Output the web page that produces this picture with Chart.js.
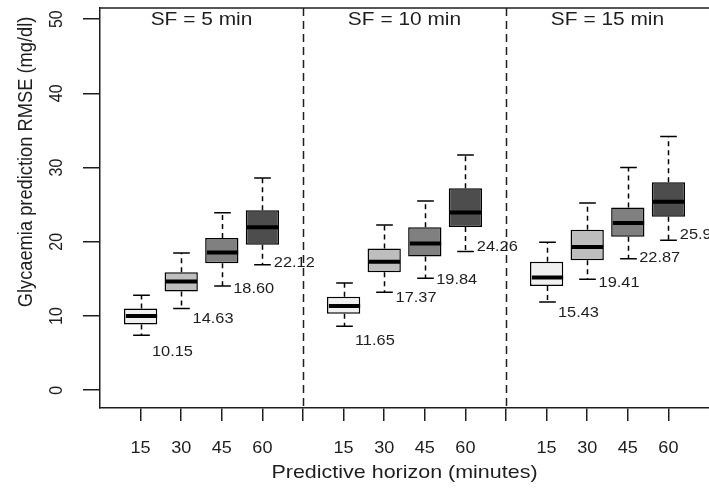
<!DOCTYPE html>
<html>
<head>
<meta charset="utf-8">
<script src="https://cdn.jsdelivr.net/npm/chart.js@4.4.1/dist/chart.umd.min.js"></script>
<style>
  html, body { margin: 0; padding: 0; background: #fff; }
</style>
</head>
<body>
<canvas id="chart" width="709" height="488"></canvas>
<script>
var panels = ['SF = 5 min', 'SF = 10 min', 'SF = 15 min'];
var horizons = ['15', '30', '45', '60'];
var yTicks = [0, 10, 20, 30, 40, 50];

// one entry per box: SF 5 (15,30,45,60), SF 10 (...), SF 15 (...)
var whiskerLow  = [7.4, 11.0, 14.05, 16.9,   8.6, 13.2, 15.1, 18.7,   11.9, 14.95, 17.7, 20.2];
var boxLow      = [8.85, 13.3, 17.1, 19.6,   10.3, 15.9, 18.0, 22.0,  14.05, 17.5, 20.66, 23.36];
var medians     = [10.0, 14.65, 18.55, 21.95, 11.35, 17.3, 19.77, 23.95, 15.2, 19.28, 22.52, 25.4];
var boxHigh     = [11.0, 15.9, 20.5, 24.25,  12.6, 19.1, 21.95, 27.2,  17.3, 21.63, 24.62, 28.03];
var whiskerHigh = [12.8, 18.5, 23.9, 28.6,   14.45, 22.25, 25.5, 31.7, 19.95, 25.22, 30.02, 34.2];
var means       = ['10.15', '14.63', '18.60', '22.12', '11.65', '17.37', '19.84', '24.26', '15.43', '19.41', '22.87', '25.93'];

var boxColors = ['#f0f0f0', '#bebebe', '#808080', '#4d4d4d'];
var ink = '#1e1e1e';
var font = "'Liberation Sans', Arial, sans-serif";
var stretch = 1.13; // the source picture is a little wider than tall

function boxPos(i) {
  return Math.floor(i / 4) * 5 + (i % 4) + 1;
}

// text drawn with the same horizontal stretch as the source
function putText(ctx, text, x, y, size, align, rotate) {
  ctx.save();
  ctx.translate(x, y);
  ctx.scale(stretch, 1);
  if (rotate) ctx.rotate(-Math.PI / 2);
  ctx.font = size + 'px ' + font;
  ctx.textAlign = align;
  ctx.textBaseline = 'middle';
  ctx.fillStyle = ink;
  ctx.fillText(text, 0, 0);
  ctx.restore();
}

var boxData = [];
var boxFill = [];
for (var i = 0; i < medians.length; i++) {
  boxData.push({ x: boxPos(i), y: [boxLow[i], boxHigh[i]] });
  boxFill.push(boxColors[i % 4]);
}

var extras = {
  id: 'extras',
  beforeDatasetsDraw: function (chart) {
    var ctx = chart.ctx, xs = chart.scales.x, area = chart.chartArea;
    ctx.save();
    ctx.strokeStyle = ink;
    ctx.lineWidth = 1.5;
    // top border
    ctx.beginPath();
    ctx.moveTo(area.left, area.top);
    ctx.lineTo(area.right, area.top);
    ctx.stroke();
    // panel dividers
    ctx.setLineDash([8, 5]);
    [5, 10].forEach(function (v) {
      var px = Math.round(xs.getPixelForValue(v)) + 0.5;
      ctx.beginPath();
      ctx.moveTo(px, area.top);
      ctx.lineTo(px, area.bottom);
      ctx.stroke();
    });
    ctx.restore();
  },
  afterDatasetsDraw: function (chart) {
    var ctx = chart.ctx, xs = chart.scales.x, ys = chart.scales.y, area = chart.chartArea;
    var meta = chart.getDatasetMeta(0);
    ctx.save();
    ctx.strokeStyle = '#000';
    for (var i = 0; i < medians.length; i++) {
      var bar = meta.data[i];
      var cx = Math.round(bar.x) + 0.5;
      var half = bar.width / 2;
      var cap = half / 2;
      // whiskers
      ctx.lineWidth = 1.5;
      ctx.setLineDash([5, 4]);
      ctx.beginPath();
      ctx.moveTo(cx, ys.getPixelForValue(boxHigh[i]));
      ctx.lineTo(cx, ys.getPixelForValue(whiskerHigh[i]));
      ctx.moveTo(cx, ys.getPixelForValue(boxLow[i]));
      ctx.lineTo(cx, ys.getPixelForValue(whiskerLow[i]));
      ctx.stroke();
      ctx.setLineDash([]);
      ctx.beginPath();
      var yh = ys.getPixelForValue(whiskerHigh[i]);
      var yl = ys.getPixelForValue(whiskerLow[i]);
      ctx.moveTo(cx - cap, yh);
      ctx.lineTo(cx + cap, yh);
      ctx.moveTo(cx - cap, yl);
      ctx.lineTo(cx + cap, yl);
      ctx.stroke();
      // median
      ctx.lineWidth = 4;
      ctx.beginPath();
      var ym = ys.getPixelForValue(medians[i]);
      ctx.moveTo(cx - half + 1, ym);
      ctx.lineTo(cx + half - 1, ym);
      ctx.stroke();
      // mean label
      putText(ctx, means[i], xs.getPixelForValue(boxPos(i) + 0.28), ys.getPixelForValue(Number(means[i]) - 5), 14.5, 'left');
    }
    ctx.restore();
    panels.forEach(function (t, p) {
      putText(ctx, t, xs.getPixelForValue(p * 5 + 2.5), area.top + 12, 18.5, 'center');
    });
  },
  afterDraw: function (chart) {
    var ctx = chart.ctx, xs = chart.scales.x, ys = chart.scales.y, area = chart.chartArea;
    yTicks.forEach(function (v) {
      putText(ctx, String(v), 57, ys.getPixelForValue(v), 16, 'center', true);
    });
    for (var i = 0; i < medians.length; i++) {
      putText(ctx, horizons[i % 4], xs.getPixelForValue(boxPos(i)), area.bottom + 41, 16, 'center');
    }
    putText(ctx, 'Predictive horizon (minutes)', xs.getPixelForValue(7.5), 473, 19, 'center');
    putText(ctx, 'Glycaemia prediction RMSE (mg/dl)', 26, 162, 18.3, 'center', true);
  }
};

Chart.defaults.font.family = font;
Chart.defaults.color = ink;

new Chart(document.getElementById('chart'), {
  type: 'bar',
  data: {
    datasets: [{
      data: boxData,
      backgroundColor: boxFill,
      borderColor: '#000',
      borderWidth: 1.5,
      borderSkipped: false,
      categoryPercentage: 1,
      barPercentage: 0.82
    }]
  },
  options: {
    responsive: false,
    animation: false,
    layout: { padding: { top: 8, left: 0, right: 0, bottom: 0 } },
    plugins: { legend: { display: false }, tooltip: { enabled: false } },
    scales: {
      x: {
        type: 'linear',
        min: 0,
        max: 15,
        offset: false,
        afterFit: function (scale) {
          scale.height = 80;
          scale.paddingLeft = 0;
          scale.paddingRight = 0;
        },
        grid: {
          offset: false,
          drawOnChartArea: false,
          tickLength: 13,
          lineWidth: 1.5,
          color: function (c) {
            var v = c.tick ? c.tick.value : 0;
            return (v <= 0 || v >= 15) ? 'rgba(0,0,0,0)' : ink;
          }
        },
        border: { color: ink, width: 1.5 },
        ticks: { stepSize: 1, autoSkip: false, maxRotation: 0, display: false }
      },
      y: {
        min: -2.4,
        max: 51.5,
        afterFit: function (scale) {
          scale.width = 100;
          scale.paddingTop = 0;
          scale.paddingBottom = 0;
        },
        grid: { drawOnChartArea: false, tickLength: 17, lineWidth: 1.5, color: ink },
        border: { color: ink, width: 1.5 },
        ticks: { stepSize: 10, includeBounds: false, display: false }
      }
    }
  },
  plugins: [extras]
});
</script>
</body>
</html>
